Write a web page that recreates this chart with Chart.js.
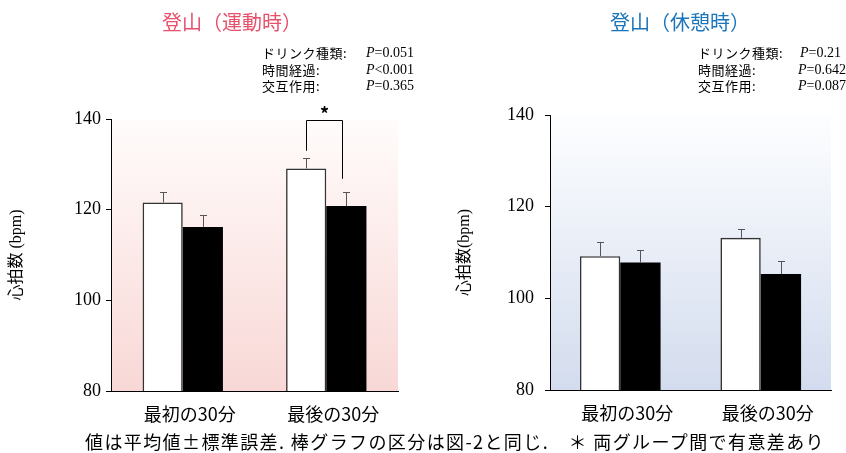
<!DOCTYPE html>
<html>
<head>
<meta charset="utf-8">
<script src="https://cdn.jsdelivr.net/npm/chart.js@4.4.1/dist/chart.umd.min.js"></script>
<style>
  body { margin: 0; width: 846px; height: 453px; overflow: hidden; background: #fff; position: relative; }
  .abs { position: absolute; white-space: nowrap; }
  .jp { font-family: 'Noto Sans CJK JP', sans-serif; }
  .serif { font-family: 'Liberation Serif', serif; }
  .title { font-size: 20px; line-height: 20px; top: 12px; }
  .stat { font-size: 13px; line-height: 16px; letter-spacing: 0.5px; color: #000; }
  .pv { font-size: 14px; line-height: 16px; color: #000; }
  canvas { position: absolute; top: 0; }
</style>
</head>
<body>
<canvas id="chartExercise" width="430" height="453" style="left:0"></canvas>
<canvas id="chartRest" width="416" height="453" style="left:430px"></canvas>

<div class="abs jp title" style="left:162px;color:#e8516c">登山（運動時）</div>
<div class="abs jp title" style="left:610px;color:#1b75bb">登山（休憩時）</div>

<!-- stats, exercise -->
<div class="abs jp stat" style="left:262px;top:45px">ドリンク種類:</div>
<div class="abs jp stat" style="left:262px;top:62px">時間経過:</div>
<div class="abs jp stat" style="left:262px;top:78px">交互作用:</div>
<div class="abs serif pv" style="right:432px;top:45px"><i>P</i>=0.051</div>
<div class="abs serif pv" style="right:432px;top:62px"><i>P</i>&lt;0.001</div>
<div class="abs serif pv" style="right:432px;top:78px"><i>P</i>=0.365</div>

<!-- stats, rest -->
<div class="abs jp stat" style="left:698px;top:45px">ドリンク種類:</div>
<div class="abs jp stat" style="left:698px;top:62px">時間経過:</div>
<div class="abs jp stat" style="left:698px;top:78px">交互作用:</div>
<div class="abs serif pv" style="left:800px;top:45px"><i>P</i>=0.21</div>
<div class="abs serif pv" style="left:798px;top:62px"><i>P</i>=0.642</div>
<div class="abs serif pv" style="left:798px;top:78px"><i>P</i>=0.087</div>

<div class="abs jp" style="left:85px;top:430px;font-size:18px;line-height:22px;letter-spacing:1.4px">値は平均値±標準誤差. 棒グラフの区分は図-2と同じ.　＊ 両グループ間で有意差あり</div>

<script>
// categories and values (heart rate, bpm)
const categories = ['最初の30分', '最後の30分'];
const yTicks = [80, 100, 120, 140];

const exerciseWhite = [121.6, 129.1];
const exerciseWhiteErr = [2.3, 2.3];
const exerciseBlack = [116.2, 120.8];
const exerciseBlackErr = [2.6, 3.0];

const restWhite = [109.2, 113.2];
const restWhiteErr = [3.1, 1.9];
const restBlack = [107.8, 105.3];
const restBlackErr = [2.7, 2.8];

// significance bracket on exercise chart: category index, top, left end, right end (bpm)
const sigCategory = 1;
const sigLevels = [139.8, 133.0, 126.8];

const serifFont = "'Liberation Serif', serif";
const jpFont = "'Noto Sans CJK JP', sans-serif";

const bgPlugin = {
  id: 'bg',
  beforeDraw(chart, args, opts) {
    const { ctx, chartArea: a } = chart;
    const g = ctx.createLinearGradient(0, a.top, 0, a.bottom);
    g.addColorStop(0, opts.top);
    g.addColorStop(1, opts.bottom);
    ctx.save();
    ctx.fillStyle = g;
    ctx.fillRect(a.left, a.top, a.right - a.left, a.bottom - a.top);
    ctx.restore();
  }
};

const errorBarPlugin = {
  id: 'errbars',
  afterDatasetsDraw(chart, args, opts) {
    const { ctx } = chart;
    const y = chart.scales.y;
    ctx.save();
    ctx.strokeStyle = '#555';
    ctx.lineWidth = 1;
    chart.data.datasets.forEach((ds, di) => {
      const meta = chart.getDatasetMeta(di);
      meta.data.forEach((bar, i) => {
        const top = y.getPixelForValue(ds.data[i] + ds.err[i]);
        const x = Math.round(bar.x) + 0.5;
        ctx.beginPath();
        ctx.moveTo(x, bar.y);
        ctx.lineTo(x, top);
        ctx.moveTo(x - 3.5, Math.round(top) + 0.5);
        ctx.lineTo(x + 3.5, Math.round(top) + 0.5);
        ctx.stroke();
      });
    });
    if (opts.sig) {
      const [topV, leftV, rightV] = opts.sig.levels;
      const b1 = chart.getDatasetMeta(0).data[opts.sig.index];
      const b2 = chart.getDatasetMeta(1).data[opts.sig.index];
      const x1 = Math.round(b1.x) + 0.5;
      const x2 = Math.round(b2.x - b2.width * 0.12) + 0.5;
      const yt = Math.round(y.getPixelForValue(topV)) + 0.5;
      ctx.strokeStyle = '#000';
      ctx.beginPath();
      ctx.moveTo(x1, y.getPixelForValue(leftV));
      ctx.lineTo(x1, yt);
      ctx.lineTo(x2, yt);
      ctx.lineTo(x2, y.getPixelForValue(rightV));
      ctx.stroke();
      ctx.fillStyle = '#000';
      ctx.font = 'bold 18px ' + jpFont;
      ctx.textAlign = 'center';
      ctx.textBaseline = 'middle';
      ctx.fillText('*', (x1 + x2) / 2, yt - 6);
    }
    ctx.restore();
  }
};

function makeChart(canvas, white, whiteErr, black, blackErr, o) {
  return new Chart(canvas, {
    type: 'bar',
    data: {
      labels: categories,
      datasets: [
        { label: 'グループ1', data: white, err: whiteErr, backgroundColor: '#fff', borderColor: '#333', borderWidth: 1.6 },
        { label: 'グループ2', data: black, err: blackErr, backgroundColor: '#000', borderColor: '#000', borderWidth: 0 },
      ],
    },
    options: {
      responsive: false,
      animation: false,
      devicePixelRatio: 1,
      categoryPercentage: o.catPct,
      barPercentage: 1,
      layout: { padding: { left: 0, right: o.right, top: o.top, bottom: o.bottom } },
      plugins: {
        legend: { display: false },
        tooltip: { enabled: false },
        bg: { top: o.bgTop, bottom: o.bgBottom },
        errbars: { sig: o.sig },
      },
      scales: {
        x: {
          grid: { display: false },
          border: { display: true, color: '#000', width: 1 },
          ticks: { color: '#000', padding: 4, labelOffset: 7, font: { family: jpFont, size: 18 } },
          afterFit(s) { s.height = 40; },
        },
        y: {
          min: 80,
          max: 140,
          afterBuildTicks(s) { s.ticks = yTicks.map(v => ({ value: v })); },
          grid: { drawOnChartArea: false, drawTicks: true, tickLength: 5, color: '#000' },
          border: { display: true, color: '#000', width: 1 },
          ticks: { color: '#000', padding: o.tickPad, font: { family: serifFont, size: 18 } },
          title: {
            display: true,
            text: o.yTitle,
            color: '#000',
            padding: { top: o.titlePad, bottom: 0 },
            font: { family: "'Liberation Serif', 'Noto Sans CJK JP', serif", size: 16 },
          },
          afterFit(s) { s.width = o.left; },
        },
      },
    },
    plugins: [bgPlugin, errorBarPlugin],
  });
}

makeChart(document.getElementById('chartExercise'), exerciseWhite, exerciseWhiteErr, exerciseBlack, exerciseBlackErr, {
  catPct: 0.56, left: 111, right: 32, top: 119, bottom: 22, tickPad: 5, titlePad: 7,
  bgTop: '#fffcfb', bgBottom: '#f8d8d6', yTitle: '心拍数 (bpm)',
  sig: { index: sigCategory, levels: sigLevels },
});

makeChart(document.getElementById('chartRest'), restWhite, restWhiteErr, restBlack, restBlackErr, {
  catPct: 0.574, left: 120, right: 15, top: 115, bottom: 23, tickPad: 11, titlePad: 25,
  bgTop: '#fdfeff', bgBottom: '#d3dcee', yTitle: '心拍数(bpm)',
  sig: null,
});
</script>
</body>
</html>
